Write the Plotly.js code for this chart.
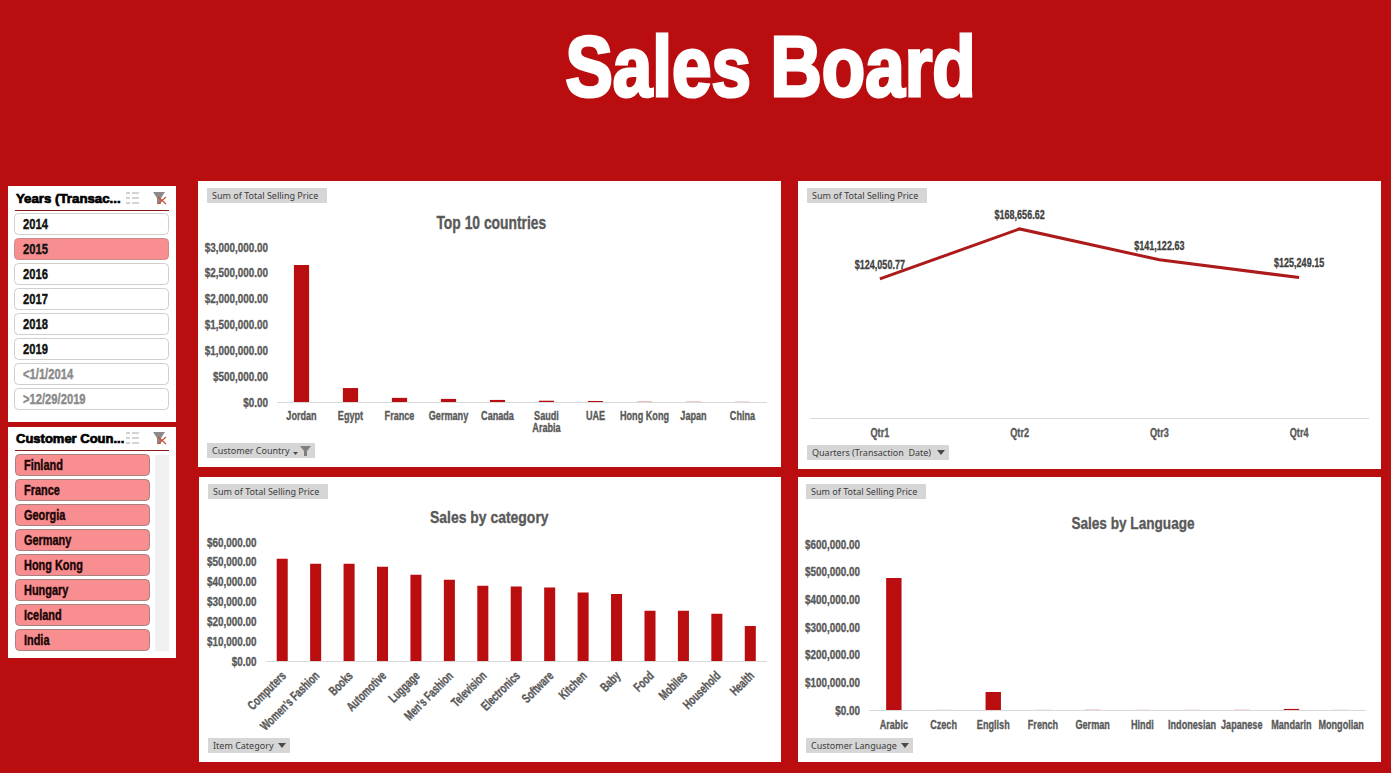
<!DOCTYPE html>
<html><head><meta charset="utf-8">
<script src="https://cdn.plot.ly/plotly-3.0.1.min.js"></script>
<style>html,body{margin:0;padding:0;background:#B90D0F;overflow:hidden}#c{width:1391px;height:773px}</style>
</head><body><div id="c"></div>
<script>
const countries=['Jordan','Egypt','France','Germany','Canada','Saudi<br>Arabia','UAE','Hong Kong','Japan','China'];
const countrySales=[2650000,270000,80000,60000,40000,25000,20000,5000,4000,3000];
const quarters=['Qtr1','Qtr2','Qtr3','Qtr4'];
const quarterSales=[124050.77,168656.62,141122.63,125249.15];
const categories=['Computers',"Women's Fashion",'Books','Automotive','Luggage',"Men's Fashion",'Television','Electronics','Software','Kitchen','Baby','Food','Mobiles','Household','Health'];
const categorySales=[51500,49000,49000,47500,43500,41000,38000,37500,37000,34500,33800,25300,25300,23800,17700];
const languages=['Arabic','Czech','English','French','German','Hindi','Indonesian','Japanese','Mandarin','Mongolian'];
const languageSales=[477000,300,65000,300,600,300,300,500,4000,300];
const years=['2014','2015','2016','2017','2018','2019','<1/1/2014','>12/29/2019'];
const yearState=['on','sel','on','on','on','on','off','off'];
const slicerCountries=['Finland','France','Georgia','Germany','Hong Kong','Hungary','Iceland','India'];

const W=1391,H=773,RED='#B90D0F',GREY='#595959',FONT='"Liberation Sans",Arial,sans-serif';
const X=p=>p/W, Y=p=>1-p/H;
const shapes=[],ann=[],annFx=[];
function rect(x0,y0,x1,y1,fill,line){shapes.push({type:'rect',xref:'paper',yref:'paper',x0:X(x0),x1:X(x1),y0:Y(y1),y1:Y(y0),fillcolor:fill,line:{color:line||fill,width:line?1:0},layer:'below'});}
function round(x0,y0,x1,y1,r,fill,line){
  const p=(x,y)=>X(x)+','+Y(y);
  const path='M'+p(x0+r,y0)+' L'+p(x1-r,y0)+' Q'+p(x1,y0)+' '+p(x1,y0+r)+' L'+p(x1,y1-r)+' Q'+p(x1,y1)+' '+p(x1-r,y1)+' L'+p(x0+r,y1)+' Q'+p(x0,y1)+' '+p(x0,y1-r)+' L'+p(x0,y0+r)+' Q'+p(x0,y0)+' '+p(x0+r,y0)+' Z';
  shapes.push({type:'path',xref:'paper',yref:'paper',path,fillcolor:fill,line:{color:line,width:1},layer:'below'});
}
function hline(x0,x1,y,c,w){shapes.push({type:'line',xref:'paper',yref:'paper',x0:X(x0),x1:X(x1),y0:Y(y),y1:Y(y),line:{color:c,width:w||1},layer:'below'});}
function txt(x,y,t,size,color,anchor,fx,family,weight){
  ann.push({xref:'paper',yref:'paper',x:X(x),y:Y(y),text:t,showarrow:false,xanchor:anchor||'left',align:anchor||'left',yanchor:'middle',font:{size,color,family:family||FONT,weight:weight||700},borderpad:0});
  annFx.push(fx||{r:1,s:0});
}
function poly(pts,fill){
  const path='M'+pts.map(a=>X(a[0])+','+Y(a[1])).join(' L')+' Z';
  shapes.push({type:'path',xref:'paper',yref:'paper',path,fillcolor:fill,line:{color:fill,width:0},layer:'below'});
}
function button(x0,y0,x1,t,arrow,filter){
  rect(x0,y0,x1,y0+15,'#D6D6D6');
  txt(x0+4,y0+7.5,t,9,'#3c3c3c','left',null,'"Noto Sans",sans-serif',400);
  if(arrow){poly([[x1-12,y0+5],[x1-4,y0+5],[x1-8,y0+10]],'#4a4a4a');}
  if(filter){poly([[x1-15,y0+3],[x1-4,y0+3],[x1-8,y0+8],[x1-8,y0+13],[x1-11,y0+13],[x1-11,y0+8]],'#7f7f7f');poly([[x1-22,y0+9],[x1-17,y0+9],[x1-19.5,y0+12]],'#4a4a4a');}
}
function slicerIcons(y){
  [0,5,10].forEach(d=>{hline(132,139,y+d-5,'#a8a8a8',1);hline(126,130,y+d-5,'#9aa89a',1);});
  poly([[153,y-6],[165,y-6],[161,y],[161,y+6],[157,y+6],[157,y]],'#8a8a8a');
  [[158,166],[166,158]].forEach(a=>shapes.push({type:'line',xref:'paper',yref:'paper',x0:X(a[0]),x1:X(a[1]),y0:Y(y-1),y1:Y(y+6),line:{color:'#c9503c',width:1.2},layer:'below'}));
}

rect(198,181,781,467,'#fff');rect(798,181,1381,469,'#fff');rect(199,477,781,762,'#fff');rect(798,477,1381,762,'#fff');
rect(8,186,176,422,'#fff');
txt(15,198,'Years (Transac...',13,'#000','left',{r:1.02,s:.7});
hline(15,169,210.5,'#8b1a1a',1);slicerIcons(198);
years.forEach((y,i)=>{const t=213.5+25*i,s=yearState[i];
  round(14.5,t,168.5,t+21,4,s==='sel'?'#F88E90':'#fff',s==='sel'?'#c98a8a':'#cfcfcf');
  txt(22,t+10.5,y.replace('<','&lt;'),14,s==='off'?'#8a8a8a':'#111','left',{r:.8,s:.4});});
rect(8,427,176,658,'#fff');
txt(15,438,'Customer Coun...',13,'#000','left',{r:1,s:.7});
hline(15,169,450.5,'#8b1a1a',1);slicerIcons(438);
rect(155,455,169,651,'#EEF0F1');
slicerCountries.forEach((c,i)=>{const t=454.5+25*i;
  round(15.5,t,149.5,t+21,4,'#F88E90','#a98080');
  txt(23,t+10.5,c,14,'#1a0505','left',{r:.78,s:.4});});
txt(770,66,'Sales Board',86,'#fff','center',{r:.825,s:3.2});
txt(491,223,'Top 10 countries',18,GREY,'center',{r:.77,s:.35});
txt(489,517,'Sales by category',17,GREY,'center',{r:.82,s:.35});
txt(1133,523,'Sales by Language',17,GREY,'center',{r:.8,s:.35});
button(207,188,327,'Sum of Total Selling Price');
button(807,188,927,'Sum of Total Selling Price');
button(208,484,328,'Sum of Total Selling Price');
button(806,484,926,'Sum of Total Selling Price');
button(207,443,315,'Customer Country',false,true);
button(807,445,949,'Quarters (Transaction  Date)',true);
button(208,738,290,'Item Category',true);
button(806,738,913,'Customer Language',true);

const tick={family:FONT,size:13,color:GREY,weight:700};
function xa(l,r,n,anchor,extra){return Object.assign({domain:[X(l),X(r)],anchor,type:'category',range:[-0.5,n-0.5],showgrid:false,zeroline:false,showline:true,linecolor:'#D9D9D9',linewidth:1,ticks:'',tickfont:tick,tickangle:0,ticklabelstandoff:1,fixedrange:true},extra||{});}
function ya(b,t,max,dtick,anchor,vis){return {domain:[Y(b),Y(t)],anchor,range:[0,max],dtick,tickformat:'$,.2f',showgrid:false,zeroline:false,showline:false,ticks:'',tickfont:tick,ticklabelstandoff:8,visible:vis!==false,fixedrange:true};}

const bar=(x,y,n,w)=>({type:'bar',x,y,xaxis:'x'+n,yaxis:'y'+n,width:w,marker:{color:RED},hoverinfo:'skip'});
const traces=[
  bar(countries,countrySales,'',0.31),
  {type:'scatter',mode:'lines+markers+text',x:quarters,y:quarterSales,xaxis:'x2',yaxis:'y2',line:{color:'#AC1A1C',width:3},marker:{size:10,opacity:0},texttemplate:'%{y:$,.2f}',textposition:'top center',textfont:{family:FONT,size:12,color:'#404040',weight:700},cliponaxis:false,hoverinfo:'skip'},
  bar(categories,categorySales,'3',0.33),
  bar(languages,languageSales,'4',0.31)
];
const layout={width:W,height:H,margin:{l:0,r:0,t:0,b:0},paper_bgcolor:RED,plot_bgcolor:'rgba(0,0,0,0)',showlegend:false,shapes,annotations:ann,font:{family:FONT},
  xaxis:xa(277,767,countries.length,'y'),yaxis:ya(402,247,3000000,500000,'x'),
  xaxis2:xa(810,1369,quarters.length,'y2',{ticklabelstandoff:2}),yaxis2:ya(418,206,189100,50000,'x2',false),
  xaxis3:xa(265.5,767,categories.length,'y3',{tickangle:-45}),yaxis3:ya(661,542,60000,10000,'x3'),
  xaxis4:xa(869,1366,languages.length,'y4',{ticklabelstandoff:2}),yaxis4:ya(710,544,600000,100000,'x4')
};
function condense(el,ratio,stroke){
  const lines=el.querySelectorAll('tspan.line');
  (lines.length?[...lines]:[el]).forEach((n,i)=>{
    const len=n.getComputedTextLength();
    if(len>0&&ratio!==1){n.setAttribute('textLength',len*ratio);n.setAttribute('lengthAdjust','spacingAndGlyphs');}
    if(i>0)n.setAttribute('dy','0.95em');
  });
  if(stroke){el.style.stroke=el.style.fill;el.style.strokeWidth=stroke+'px';}
}
Plotly.newPlot('c',traces,layout,{displayModeBar:false,staticPlot:true}).then(gd=>{
  gd.querySelectorAll('.xaxislayer-above text').forEach(t=>condense(t,.7,.35));
  gd.querySelectorAll('.yaxislayer-above text').forEach(t=>condense(t,.76,.35));
  gd.querySelectorAll('.textpoint text').forEach(t=>condense(t,.75,.3));
  gd.querySelectorAll('.annotation').forEach((g,i)=>{
    const t=g.querySelector('text');const f=annFx[i];if(t&&f)condense(t,f.r,f.s);
  });
});
</script></body></html>
